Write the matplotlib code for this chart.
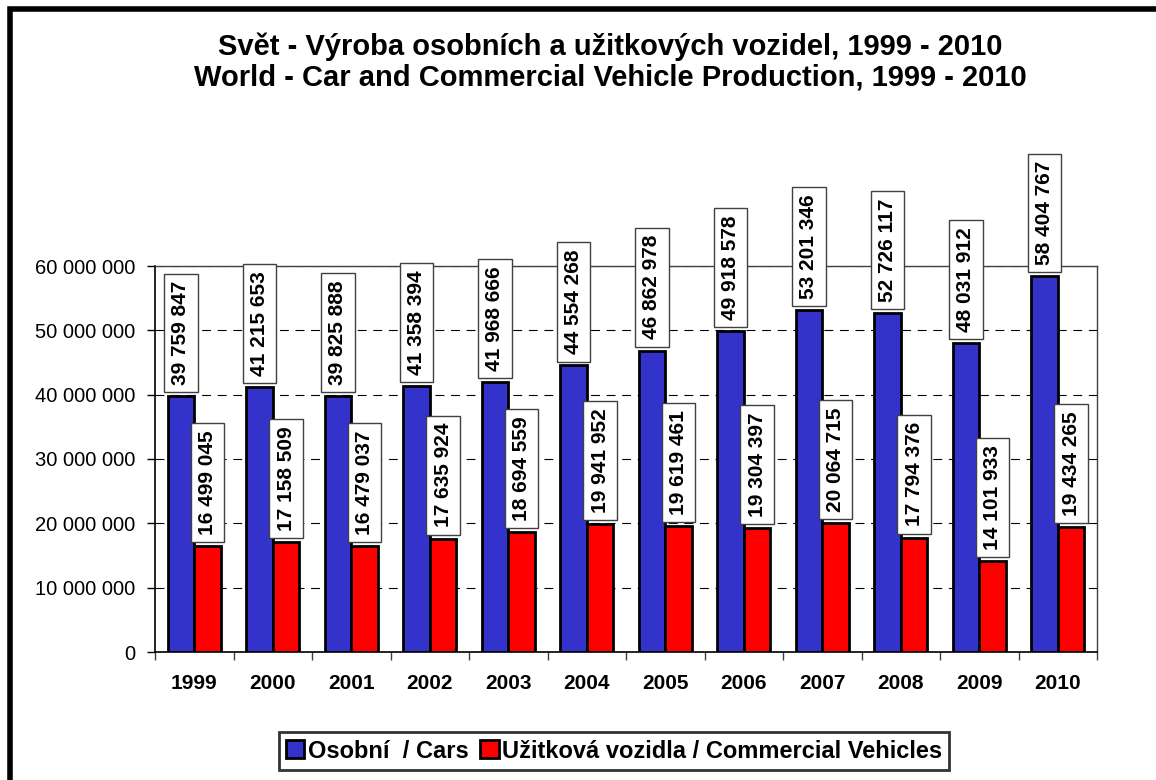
import numpy as np
import matplotlib
matplotlib.use('Agg')
from matplotlib import pyplot as plt
from matplotlib.patches import Rectangle
from matplotlib.ticker import FuncFormatter

plt.rcParams['font.family'] = ['Liberation Sans', 'DejaVu Sans']

years = ['1999', '2000', '2001', '2002', '2003', '2004',
         '2005', '2006', '2007', '2008', '2009', '2010']
cars = [39759847, 41215653, 39825888, 41358394, 41968666, 44554268,
        46862978, 49918578, 53201346, 52726117, 48031912, 58404767]
commercial = [16499045, 17158509, 16479037, 17635924, 18694559, 19941952,
              19619461, 19304397, 20064715, 17794376, 14101933, 19434265]
title = ('Svět - Výroba osobních a užitkových vozidel, 1999 - 2010\n'
         'World - Car and Commercial Vehicle Production, 1999 - 2010')
series_names = ['Osobní  / Cars', 'Užitková vozidla / Commercial Vehicles']


def spaced(v, pos=None):
    return f'{int(v):,}'.replace(',', ' ')


W, H = 1156, 780
fig = plt.figure(figsize=(W / 100, H / 100), dpi=100)
ax = fig.add_axes([155 / W, 1 - 652 / H, 942 / W, 386 / H])

x = np.arange(len(years))
bw = 0.338
b1 = ax.bar(x - bw / 2, cars, bw, color='#3333CC', edgecolor='black', lw=2, zorder=3)
b2 = ax.bar(x + bw / 2, commercial, bw, color='#FF0000', edgecolor='black', lw=2, zorder=3)

# value boxes standing on top of every bar
box = dict(boxstyle='square,pad=0.35', fc='white', ec='#404040', lw=1)
for bars in (b1, b2):
    for r in bars:
        h = r.get_height()
        ax.annotate(spaced(h), (r.get_x() + r.get_width() / 2, h),
                    xytext=(0, 8), textcoords='offset points',
                    rotation=90, ha='center', va='bottom',
                    fontsize=15, fontweight='bold', bbox=box,
                    clip_on=False, zorder=5)

ax.set_xlim(-0.5, len(years) - 0.5)
ax.set_ylim(0, 60_000_000)
ax.set_yticks(np.arange(0, 60_000_001, 10_000_000))
ax.yaxis.set_major_formatter(FuncFormatter(spaced))
ax.set_xticks(x)
ax.set_xticklabels(years, fontweight='bold', fontsize=15)
ax.set_xticks(np.arange(-0.5, len(years)), minor=True)
ax.tick_params(axis='x', which='major', length=0, pad=16)
ax.tick_params(axis='x', which='minor', length=6, width=1, color='#404040')
ax.tick_params(axis='y', length=6, width=1, labelsize=14.5, pad=8)

ax.grid(axis='y', ls=(0, (8, 6)), color='black', lw=0.8, zorder=0)
for s in ('left', 'bottom'):
    ax.spines[s].set_linewidth(1.2)
for s in ('top', 'right'):
    ax.spines[s].set_color('#404040')
    ax.spines[s].set_linewidth(1)

fig.text(610 / W, 1 - 62 / H, title, ha='center', va='center',
         fontsize=21, fontweight='bold', linespacing=1.1)

leg = fig.legend([b1, b2], series_names, loc='center',
                 bbox_to_anchor=(614 / W, 1 - 751 / H), ncol=2,
                 prop=dict(size=17, weight='bold'), frameon=True,
                 fancybox=False, edgecolor='black', handlelength=0.78,
                 handleheight=0.78, handletextpad=0.15, columnspacing=0.5,
                 borderpad=0.3, borderaxespad=0)
leg.get_frame().set_linewidth(2)

fig.patches.append(Rectangle((9.5 / W, -0.1), 1.2, 1 - 9.5 / H + 0.1,
                             transform=fig.transFigure, fill=False,
                             ec='black', lw=4))

fig.savefig('out.png', dpi=100)
